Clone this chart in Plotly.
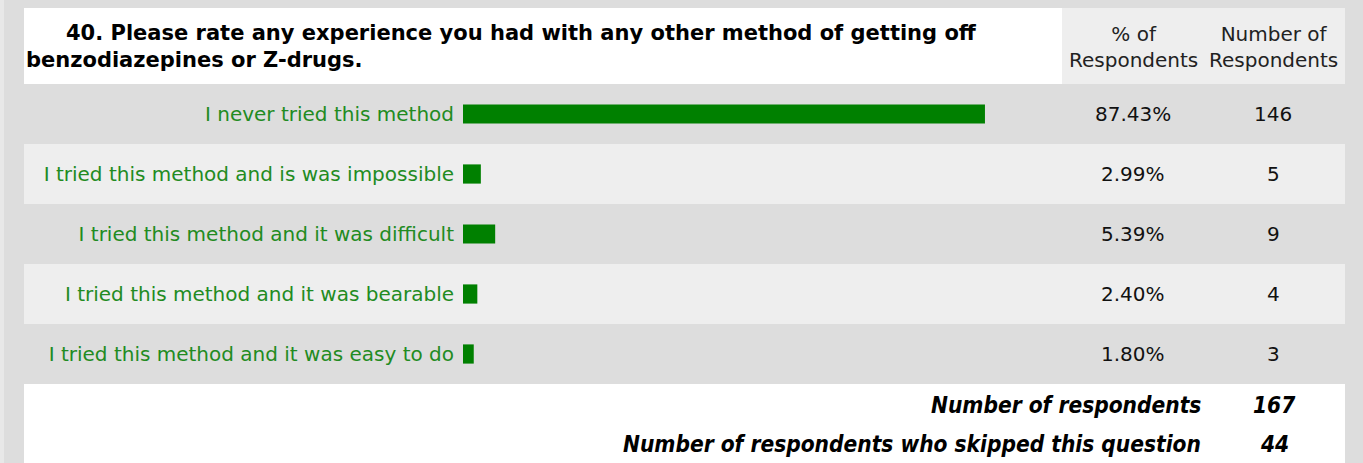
import plotly.graph_objects as go

W, H = 1363, 463

categories = [
    "I never tried this method",
    "I tried this method and is was impossible",
    "I tried this method and it was difficult",
    "I tried this method and it was bearable",
    "I tried this method and it was easy to do",
]
percent_values = [87.43, 2.99, 5.39, 2.40, 1.80]
count_values = [146, 5, 9, 4, 3]
title_line1 = "40. Please rate any experience you had with any other method of getting off"
title_line2 = "benzodiazepines or Z-drugs."
col_headers = ["% of<br>Respondents", "Number of<br>Respondents"]
footer_labels = ["Number of respondents", "Number of respondents who skipped this question"]
footer_values = [167, 44]

LABEL_FONT = "DejaVu Sans"
TXT_FONT = "DejaVu Sans"
FOOT_FONT = "DejaVu Sans Condensed"


def px(x):
    return x / W


def py(y):
    return 1 - y / H


fig = go.Figure()
fig.add_trace(go.Bar(
    x=percent_values, y=categories, orientation="h",
    marker=dict(color="#008000", line=dict(width=0)),
    width=0.32, hoverinfo="skip",
))

shapes = []
shapes.append(dict(type="rect", xref="paper", yref="paper", x0=0, x1=px(4), y0=0, y1=1,
                   fillcolor="#E8E8E8", line=dict(width=0), layer="below"))
# header white + header columns
shapes.append(dict(type="rect", xref="paper", yref="paper", x0=px(24), x1=px(1062), y0=py(84), y1=py(8),
                   fillcolor="#FFFFFF", line=dict(width=0), layer="below"))
shapes.append(dict(type="rect", xref="paper", yref="paper", x0=px(1062), x1=px(1345), y0=py(84), y1=py(8),
                   fillcolor="#EEEEEE", line=dict(width=0), layer="below"))
# row bands
for i in range(len(categories)):
    y0 = 84 + 60 * i
    shapes.append(dict(type="rect", xref="paper", yref="paper", x0=px(24), x1=px(1345), y0=py(y0 + 60), y1=py(y0),
                       fillcolor="#DDDDDD" if i % 2 == 0 else "#EEEEEE", line=dict(width=0), layer="below"))
# footer
shapes.append(dict(type="rect", xref="paper", yref="paper", x0=px(24), x1=px(1345), y0=py(463), y1=py(384),
                   fillcolor="#FFFFFF", line=dict(width=0), layer="below"))

ann = []
ann.append(dict(xref="paper", yref="paper", x=px(64), y=py(33), xanchor="left", yanchor="middle",
                text="<b>" + title_line1 + "</b>", showarrow=False,
                font=dict(family=TXT_FONT, size=21, color="#000000")))
ann.append(dict(xref="paper", yref="paper", x=px(24), y=py(60), xanchor="left", yanchor="middle",
                text="<b>" + title_line2 + "</b>", showarrow=False,
                font=dict(family=TXT_FONT, size=21, color="#000000")))
for cx, t in zip([1133, 1273], col_headers):
    ann.append(dict(xref="paper", yref="paper", x=px(cx), y=py(47), xanchor="center", yanchor="middle",
                    text=t, showarrow=False, align="center",
                    font=dict(family=TXT_FONT, size=20, color="#222222")))
for i, (p, c) in enumerate(zip(percent_values, count_values)):
    ann.append(dict(xref="paper", yref="y", x=px(1133), y=categories[i], xanchor="center", yanchor="middle",
                    text=f"{p:.2f}%", showarrow=False, font=dict(family=TXT_FONT, size=20, color="#111111")))
    ann.append(dict(xref="paper", yref="y", x=px(1273), y=categories[i], xanchor="center", yanchor="middle",
                    text=f"{c}", showarrow=False, font=dict(family=TXT_FONT, size=20, color="#111111")))
for yy, lab, val in zip([405, 444], footer_labels, footer_values):
    ann.append(dict(xref="paper", yref="paper", x=px(1203), y=py(yy), xanchor="right", yanchor="middle",
                    text="<b><i>" + lab + "</i></b>", showarrow=False,
                    font=dict(family=FOOT_FONT, size=22.5, color="#000000")))
    ann.append(dict(xref="paper", yref="paper", x=px(1274), y=py(yy), xanchor="center", yanchor="middle",
                    text="<b><i>" + str(val) + "</i></b>", showarrow=False,
                    font=dict(family=FOOT_FONT, size=22.5, color="#000000")))

fig.update_layout(
    width=W, height=H,
    margin=dict(l=0, r=0, t=0, b=0),
    paper_bgcolor="#DDDDDD", plot_bgcolor="rgba(0,0,0,0)",
    showlegend=False,
    shapes=shapes, annotations=ann,
    xaxis=dict(domain=[px(463), px(1060)], range=[0, 100], visible=False, fixedrange=True),
    yaxis=dict(domain=[py(384), py(84)], range=[4.5, -0.5], type="category",
               categoryorder="array", categoryarray=categories,
               showgrid=False, zeroline=False, showline=False, ticks="",
               ticklabelstandoff=8, fixedrange=True,
               tickfont=dict(family=LABEL_FONT, size=20, color="#228B22")),
)

fig.write_html("out.html", config={"displayModeBar": False},
               post_script="document.body.style.margin='0';document.body.style.background='#DDDDDD';")
